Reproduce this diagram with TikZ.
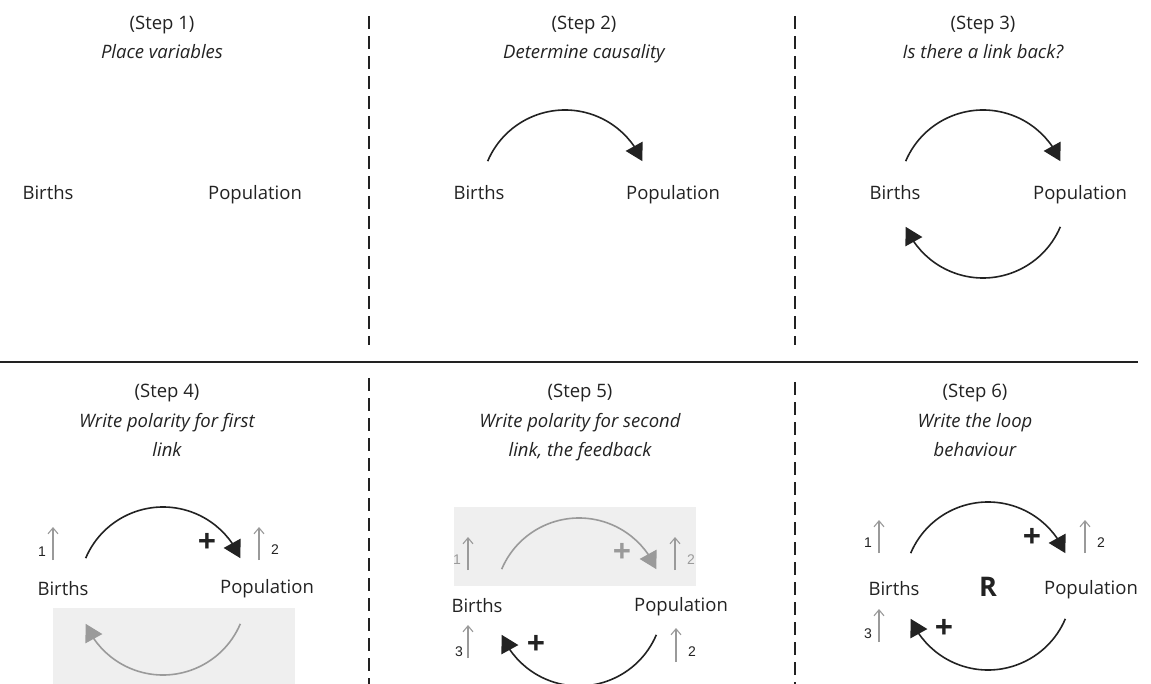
\documentclass[tikz,border=0pt]{standalone}
\usepackage{fontspec}
\setmainfont{Open Sans}
\newfontfamily\numfont{Liberation Sans}
\usetikzlibrary{arrows.meta,bending}
\definecolor{ink}{HTML}{222222}
\definecolor{lgray}{HTML}{9A9A9A}
\definecolor{boxgray}{HTML}{EFEFEF}
\begin{document}
\begin{tikzpicture}[x=1pt,y=1pt,
  title/.style={font=\fontsize{18.5}{22}\selectfont, anchor=base, text=ink, inner sep=0pt},
  subt/.style={font=\fontsize{18.5}{22}\selectfont\itshape, anchor=base, text=ink, inner sep=0pt},
  var/.style={font=\fontsize{18.5}{22}\selectfont, anchor=base, text=ink, inner sep=0pt},
  link/.style={line width=1.6pt, draw=ink, -{Triangle[length=17pt,width=19pt]}},
  glink/.style={link, draw=lgray},
  sign/.style={font=\fontsize{32}{34}\selectfont\bfseries, text=ink, inner sep=0pt},
  gsign/.style={sign, text=lgray},
  loopname/.style={font=\fontsize{27}{29}\selectfont\bfseries, anchor=base, text=ink, inner sep=0pt},
  num/.style={font=\numfont\fontsize{14}{16}\selectfont, text=ink, inner sep=0pt},
  gnum/.style={num, text=lgray},
  up/.style={draw=lgray, line width=1.1pt, -{Straight Barb[length=6pt,width=10pt]}},
  divider/.style={draw=ink, line width=1.3pt, dash pattern=on 13pt off 7pt},
  rule/.style={draw=ink, line width=1.3pt},
  shade/.style={fill=boxgray}
]
\useasboundingbox (0,0) rectangle (1151,-684);
\clip (0,0) rectangle (1151,-684);

% dividers
\coordinate (h1) at (0,-362);
\coordinate (h2) at (1138,-362);
\draw[rule] (h1) -- (h2);
\coordinate (d1t) at (369,-16);  \coordinate (d1b) at (369,-345);
\coordinate (d2t) at (795,-16);  \coordinate (d2b) at (795,-345);
\coordinate (d3t) at (369,-378); \coordinate (d3b) at (369,-684);
\coordinate (d4t) at (795,-382); \coordinate (d4b) at (795,-684);
\draw[divider] (d1t) -- (d1b);
\draw[divider] (d2t) -- (d2b);
\draw[divider] (d3t) -- (d3b);
\draw[divider] (d4t) -- (d4b);

% ---------- Step 1
\node[title] (t1) at (162,-30) {(Step 1)};
\node[subt] (s1) at (162,-59) {Place variables};
\node[var] (b1) at (48,-200) {Births};
\node[var] (p1) at (255,-200) {Population};

% ---------- Step 2
\node[title] (t2) at (584,-30) {(Step 2)};
\node[subt] (s2) at (584,-59) {Determine causality};
\node[var] (b2) at (479,-200) {Births};
\node[var] (p2) at (673,-200) {Population};
\coordinate (a2s) at ([shift={(157:84)}]565,-194);
\draw[link] (a2s) arc[start angle=157, end angle=23, radius=84];

% ---------- Step 3
\node[title] (t3) at (983,-30) {(Step 3)};
\node[subt] (s3) at (983,-59) {Is there a link back?};
\node[var] (b3) at (895,-200) {Births};
\node[var] (p3) at (1080,-200) {Population};
\coordinate (a3s) at ([shift={(157:84)}]983,-194);
\coordinate (c3s) at ([shift={(-23:84)}]983,-194);
\draw[link] (a3s) arc[start angle=157, end angle=23, radius=84];
\draw[link] (c3s) arc[start angle=-23, end angle=-157, radius=84];

% ---------- Step 4
\node[title] (t4) at (167,-398) {(Step 4)};
\node[subt] (s4a) at (167,-427) {Write polarity for first};
\node[subt] (s4b) at (167,-456) {link};
\fill[shade] (53,-608) rectangle (295,-684);
\node[var] (b4) at (63,-595) {Births};
\node[var] (p4) at (267,-593) {Population};
\coordinate (a4s) at ([shift={(157:84)}]163,-591);
\coordinate (c4s) at ([shift={(-23:84)}]163,-591);
\draw[link] (a4s) arc[start angle=157, end angle=23, radius=84];
\draw[glink] (c4s) arc[start angle=-23, end angle=-157, radius=84];
\node[sign] (pl4) at (207,-543) {+};
\coordinate (u41s) at (53,-560);  \coordinate (u41e) at (53,-527);
\coordinate (u42s) at (259,-560); \coordinate (u42e) at (259,-527);
\draw[up] (u41s) -- (u41e);
\draw[up] (u42s) -- (u42e);
\node[num] (n41) at (42,-552) {1};
\node[num] (n42) at (275,-550) {2};

% ---------- Step 5
\node[title] (t5) at (580,-398) {(Step 5)};
\node[subt] (s5a) at (580,-427) {Write polarity for second};
\node[subt] (s5b) at (580,-456) {link, the feedback};
\fill[shade] (454,-507) rectangle (696,-586);
\node[var] (b5) at (477,-612) {Births};
\node[var] (p5) at (681,-611) {Population};
\coordinate (a5s) at ([shift={(157:84)}]579,-602);
\coordinate (c5s) at ([shift={(-23:84)}]579,-602);
\draw[glink] (a5s) arc[start angle=157, end angle=23, radius=84];
\draw[link] (c5s) arc[start angle=-23, end angle=-157, radius=84];
\node[gsign] (pl5a) at (622,-553) {+};
\node[sign] (pl5b) at (536,-645) {+};
\coordinate (u51s) at (468,-570); \coordinate (u51e) at (468,-537);
\coordinate (u52s) at (675,-570); \coordinate (u52e) at (675,-537);
\coordinate (u53s) at (468,-658); \coordinate (u53e) at (468,-625);
\coordinate (u54s) at (676,-662); \coordinate (u54e) at (676,-628);
\draw[up] (u51s) -- (u51e);
\draw[up] (u52s) -- (u52e);
\draw[up] (u53s) -- (u53e);
\draw[up] (u54s) -- (u54e);
\node[gnum] (n51) at (457,-560) {1};
\node[gnum] (n52) at (691,-560) {2};
\node[num] (n53) at (459,-652) {3};
\node[num] (n54) at (692,-652) {2};

% ---------- Step 6
\node[title] (t6) at (975,-398) {(Step 6)};
\node[subt] (s6a) at (975,-427) {Write the loop};
\node[subt] (s6b) at (975,-456) {behaviour};
\node[var] (b6) at (894,-595) {Births};
\node[var] (p6) at (1091,-594) {Population};
\node[loopname] (r6) at (988,-596) {R};
\coordinate (a6s) at ([shift={(157:84)}]988,-586);
\coordinate (c6s) at ([shift={(-23:84)}]988,-586);
\draw[link] (a6s) arc[start angle=157, end angle=23, radius=84];
\draw[link] (c6s) arc[start angle=-23, end angle=-157, radius=84];
\node[sign] (pl6a) at (1032,-538) {+};
\node[sign] (pl6b) at (944,-629) {+};
\coordinate (u61s) at (879,-553);  \coordinate (u61e) at (879,-520);
\coordinate (u62s) at (1085,-553); \coordinate (u62e) at (1085,-520);
\coordinate (u63s) at (879,-642);  \coordinate (u63e) at (879,-609);
\draw[up] (u61s) -- (u61e);
\draw[up] (u62s) -- (u62e);
\draw[up] (u63s) -- (u63e);
\node[num] (n61) at (868,-543) {1};
\node[num] (n62) at (1101,-543) {2};
\node[num] (n63) at (868,-634) {3};
\end{tikzpicture}
\end{document}
